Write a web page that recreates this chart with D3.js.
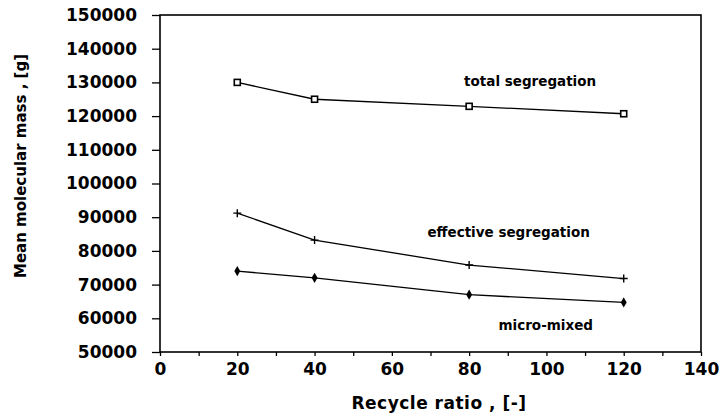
<!DOCTYPE html>
<html lang="en">
<head>
<meta charset="UTF-8">
<title>Mean molecular mass vs recycle ratio</title>
<script src="https://d3js.org/d3.v7.min.js"></script>
<style>
  body { margin: 0; background: #fff; }
  svg { display: block; }
  .axis text { font-family: "DejaVu Sans", sans-serif; font-weight: bold; font-size: 17px; fill: #000; }
  .axis path, .axis line { stroke: #000; stroke-width: 1.3; }
  .lbl { font-family: "DejaVu Sans", sans-serif; font-weight: bold; fill: #000; }
</style>
</head>
<body>
<svg id="chart" width="722" height="417"></svg>
<script>
// data
const recycle = [20, 40, 80, 120];
const totalSeg = [130000, 125000, 122900, 120700];
const effectiveSeg = [91200, 83200, 75800, 71800];
const microMixed = [74000, 72000, 67000, 64700];
const xTicks = d3.range(0, 141, 10);
const yTicks = d3.range(50000, 150001, 10000);

const svg = d3.select("#chart"),
      margin = { top: 15, right: 21, bottom: 65, left: 160 },
      width = +svg.attr("width") - margin.left - margin.right,
      height = +svg.attr("height") - margin.top - margin.bottom;

const g = svg.append("g").attr("transform", "translate(" + margin.left + "," + margin.top + ")");

const x = d3.scaleLinear().domain([0, 140]).range([0, width]);
const y = d3.scaleLinear().domain([50000, 150000]).range([height, 0]);

// frame
g.append("rect")
  .attr("width", width).attr("height", height)
  .attr("fill", "none").attr("stroke", "#000").attr("stroke-width", 1.6);

// x axis
const xAx = g.append("g").attr("class", "axis")
  .attr("transform", "translate(0," + height + ")")
  .call(d3.axisBottom(x).tickValues(xTicks).tickSize(4).tickPadding(7)
    .tickFormat(d => d % 20 === 0 ? d : ""));
xAx.select(".domain").remove();

// y axis
const yAx = g.append("g").attr("class", "axis")
  .call(d3.axisLeft(y).tickValues(yTicks).tickSize(8).tickPadding(15).tickFormat(d3.format("d")));
yAx.select(".domain").remove();

// axis titles
svg.append("text").attr("class", "lbl")
  .attr("x", 439).attr("y", 409)
  .attr("text-anchor", "middle").style("font-size", "17px")
  .style("letter-spacing", "0.5px")
  .text("Recycle ratio , [-]");

svg.append("text").attr("class", "lbl")
  .attr("transform", "translate(26,166) rotate(-90)")
  .attr("text-anchor", "middle").style("font-size", "15px")
  .text("Mean molecular mass , [g]");

// series
const series = [
  { name: "total segregation", vals: totalSeg, marker: "square" },
  { name: "effective segregation", vals: effectiveSeg, marker: "plus" },
  { name: "micro-mixed", vals: microMixed, marker: "diamond" }
];

const line = d3.line().x(d => x(d[0])).y(d => y(d[1]));

series.forEach(s => {
  const pts = recycle.map((r, i) => [r, s.vals[i]]);
  g.append("path").datum(pts)
    .attr("d", line).attr("fill", "none")
    .attr("stroke", "#000").attr("stroke-width", 1.3);

  const m = g.selectAll(null).data(pts).enter().append("g")
    .attr("transform", d => "translate(" + x(d[0]) + "," + y(d[1]) + ")");
  if (s.marker === "square") {
    m.append("rect").attr("x", -3).attr("y", -3).attr("width", 6).attr("height", 6)
      .attr("fill", "#fff").attr("stroke", "#000").attr("stroke-width", 1.6);
  } else if (s.marker === "plus") {
    m.append("path").attr("d", "M-4,0H4M0,-4V4")
      .attr("stroke", "#000").attr("stroke-width", 1.4);
  } else {
    m.append("path").attr("d", d3.symbol(d3.symbolDiamond, 30)())
      .attr("fill", "#000");
  }
});

// curve labels (left edge in recycle units, vertical centre in mass units)
const labels = [
  { text: "total segregation", v: 130200, xv: 78.7 },
  { text: "effective segregation", v: 85600, xv: 69.2 },
  { text: "micro-mixed", v: 57900, xv: 87.6 }
];
g.selectAll(null).data(labels).enter().append("text")
  .attr("class", "lbl")
  .attr("x", d => x(d.xv)).attr("y", d => y(d.v))
  .attr("dy", "0.35em")
  .style("font-size", "13.5px")
  .text(d => d.text);
</script>
</body>
</html>
